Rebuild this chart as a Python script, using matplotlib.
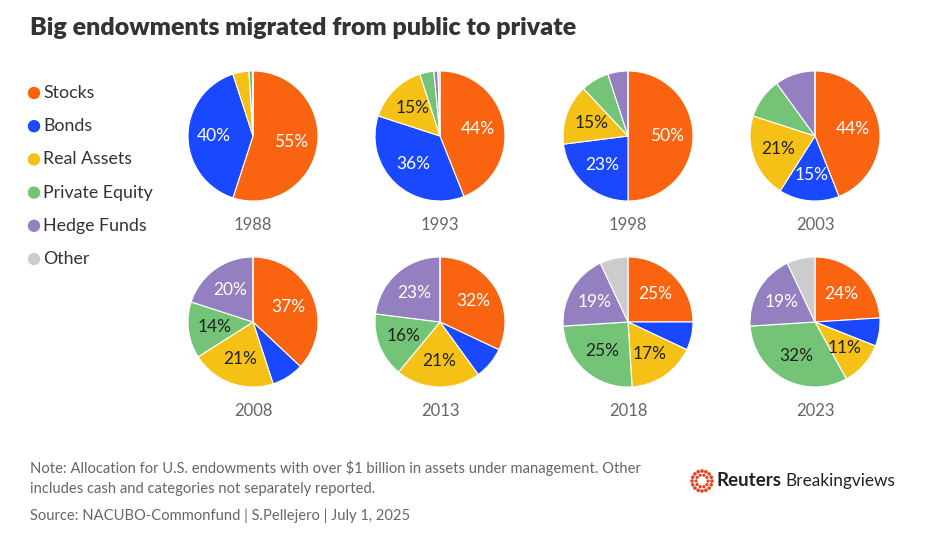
import matplotlib
matplotlib.use("Agg")
import matplotlib.pyplot as plt
import numpy as np

plt.rcParams['font.family'] = ['Lato', 'DejaVu Sans']

years = ["1988", "1993", "1998", "2003", "2008", "2013", "2018", "2023"]
categories = ["Stocks", "Bonds", "Real Assets", "Private Equity", "Hedge Funds", "Other"]
stocks = [55, 44, 50, 44, 37, 32, 25, 24]
bonds = [40, 36, 23, 15, 8, 8, 7, 7]
real_assets = [4, 15, 15, 21, 21, 21, 17, 11]
private_equity = [1, 3.5, 7, 10, 14, 16, 25, 32]
hedge_funds = [0, 1, 5, 10, 20, 23, 19, 19]
other = [0, 0.5, 0, 0, 0, 0, 7, 7]

colors = ["#FA630F", "#1948FF", "#F5C117", "#73C476", "#9480C0", "#CCCCCC"]
label_colors = ["white", "white", "#222222", "#222222", "white", "#222222"]

W, H = 936, 552
fig = plt.figure(figsize=(W / 100, H / 100), dpi=100)
fig.patch.set_facecolor("white")

def fx(px):
    return px / W

def fy(py):
    return 1 - py / H

# Title
fig.text(fx(30), fy(28), "Big endowments migrated from public to private",
         fontsize=18, fontweight="heavy", color="#333333", va="center", ha="left")

# Legend
for i, (cat, col) in enumerate(zip(categories, colors)):
    y = 93 + i * 33.2
    fig.patches.append(matplotlib.patches.Ellipse((fx(34), fy(y)), 11 / W, 11 / H,
                                                  transform=fig.transFigure, color=col))
    fig.text(fx(43), fy(y), cat, fontsize=12.8, color="#333333", va="center", ha="left")

# Pies
col_x = [253, 440, 628, 815]
row_y = [136, 322]
R = 65
series = [stocks, bonds, real_assets, private_equity, hedge_funds, other]
for k, yr in enumerate(years):
    cx = col_x[k % 4]
    cy = row_y[k // 4]
    ax = fig.add_axes([fx(cx - R), fy(cy + R), 2 * R / W, 2 * R / H])
    vals = [s[k] for s in series]
    wedges, texts, autotexts = ax.pie(
        vals, colors=colors, startangle=90, counterclock=False,
        autopct=lambda p: f"{p:.0f}%" if p >= 10.5 else "",
        pctdistance=0.6, radius=1.0,
        wedgeprops=dict(edgecolor="white", linewidth=0.8),
        textprops=dict(fontsize=12.5))
    for t, c in zip(autotexts, label_colors):
        t.set_color(c)
    ax.set_xlim(-1, 1)
    ax.set_ylim(-1, 1)
    ax.set_aspect("equal")
    ax.axis("off")
    fig.text(fx(cx), fy(cy + 89), yr, fontsize=12, color="#666666", ha="center", va="center")

# Footer
foot_col = "#666666"
fig.text(fx(30), fy(468), "Note: Allocation for U.S. endowments with over $1 billion in assets under management. Other",
         fontsize=10.6, color=foot_col, va="center", ha="left")
fig.text(fx(30), fy(489), "includes cash and categories not separately reported.",
         fontsize=10.6, color=foot_col, va="center", ha="left")
fig.text(fx(30), fy(516), "Source: NACUBO-Commonfund | S.Pellejero | July 1, 2025",
         fontsize=10.6, color=foot_col, va="center", ha="left")

# Logo
lcx, lcy = 702, 481
for r_px, n, d in [(10, 16, 2.2), (6, 10, 1.8)]:
    for a in np.linspace(0, 2 * np.pi, n, endpoint=False):
        px = lcx + r_px * np.cos(a)
        py = lcy + r_px * np.sin(a)
        fig.patches.append(matplotlib.patches.Ellipse((fx(px), fy(py)), d / W, d / H,
                                                      transform=fig.transFigure, color="#E8431E"))
fig.text(fx(716), fy(481), "Reuters", fontsize=13.5, fontweight="bold", color="#222222", va="center", ha="left")
fig.text(fx(785), fy(481), "Breakingviews", fontsize=12.4, color="#222222", va="center", ha="left")

fig.savefig("out.png", dpi=100, facecolor="white")
